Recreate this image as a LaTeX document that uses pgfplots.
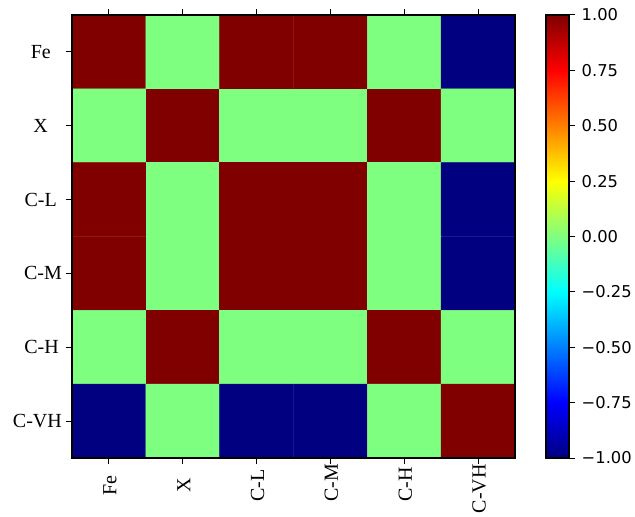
\documentclass[border=0pt]{standalone}
\usepackage{fontspec}
\setmainfont{Liberation Serif}
\newfontfamily\dejavu{DejaVu Sans}
\usepackage{pgfplots}
\pgfplotsset{compat=1.18}
\pgfplotstableread{
x y c
0 0 1
1 0 0
2 0 1
3 0 1
4 0 0
5 0 -1
0 1 0
1 1 1
2 1 0
3 1 0
4 1 1
5 1 0
0 2 1
1 2 0
2 2 1
3 2 1
4 2 0
5 2 -1
0 3 1
1 3 0
2 3 1
3 3 1
4 3 0
5 3 -1
0 4 0
1 4 1
2 4 0
3 4 0
4 4 1
5 4 0
0 5 -1
1 5 0
2 5 -1
3 5 -1
4 5 0
5 5 1
}\corr
\newcommand{\pad}[1]{\rule{#1}{0pt}}
\begin{document}
\begin{tikzpicture}[x=1pt,y=1pt]
\useasboundingbox (0,0) rectangle (635,517);
\begin{axis}[
  at={(72pt,59pt)}, anchor=south west,
  scale only axis, width=443pt, height=443pt,
  xmin=-0.5, xmax=5.5, ymin=-0.5, ymax=5.5,
  y dir=reverse,
  enlargelimits=false,
  axis on top,
  colormap/jet, point meta min=-1, point meta max=1,
  xtick={0,...,5}, ytick={0,...,5},
  xticklabels={Fe\pad{11pt}, X\pad{14pt}, C-L\pad{5pt}, C-M, C-H\pad{3pt}, C-VH},
  yticklabels={Fe\pad{11pt}, X\pad{14pt}, C-L\pad{5pt}, C-M, C-H\pad{3pt}, C-VH},
  tick align=outside, major tick length=6pt,
  xtick pos=both, xticklabel pos=lower, ytick pos=left,
  tick style={black, line width=1pt},
  axis line style={black, line width=1.3pt},
  ticklabel style={font=\fontsize{20}{20}\selectfont},
  yticklabel style={anchor=east, inner sep=0pt, xshift=-4pt},
  xticklabel style={rotate=90, anchor=east, inner sep=0pt, yshift=-1pt},
  colorbar,
  colorbar/width=23pt,
  colorbar style={
    at={(parent axis.north east)}, anchor=north west, xshift=22.5pt,
    width=23pt, height=443pt,
    ymin=-1, ymax=1,
    ytick={-1,-0.75,...,1},
    yticklabels={−1.00,−0.75,−0.50,−0.25,0.00,0.25,0.50,0.75,1.00},
    yticklabel style={font=\dejavu\fontsize{16.3}{16.3}\selectfont, anchor=west, inner sep=0pt, xshift=6.5pt},
    tick align=outside, major tick length=6pt, ytick pos=right,
    tick style={black, line width=1pt},
    axis line style={black, line width=1.3pt},
  },
]
\addplot[matrix plot*, mesh/cols=6, point meta=explicit] table[x=x, y=y, meta=c] {\corr};
\end{axis}
\end{tikzpicture}
\end{document}
